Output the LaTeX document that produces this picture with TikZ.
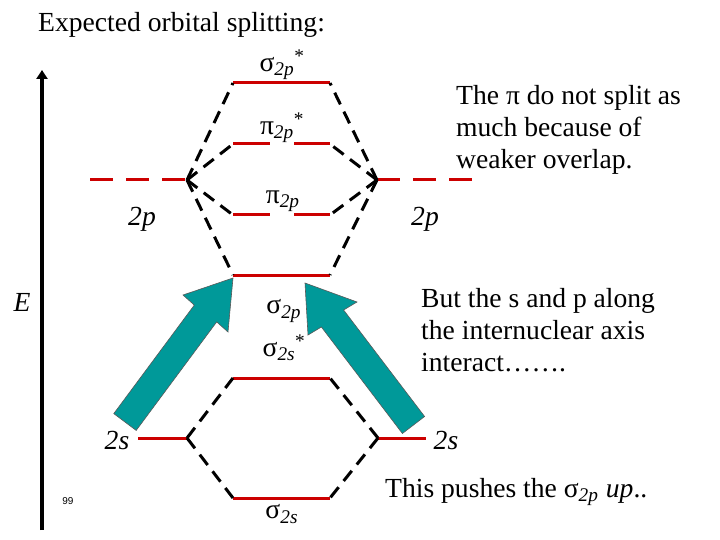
\documentclass[tikz,border=0pt]{standalone}
\usepackage{fontspec}
\setmainfont{Liberation Serif}
\newfontfamily\pagefont{Liberation Sans}
\usepackage{tikz}
\usetikzlibrary{arrows.meta, positioning, calc}
\definecolor{levelred}{HTML}{CC0000}
\definecolor{pushteal}{HTML}{009999}
\newcommand{\orb}[3]{#1\textsubscript{\itshape #2}\textsuperscript{#3}}

\begin{document}
\begin{tikzpicture}[x=1pt, y=-1pt, font=\fontsize{27.6}{32}\selectfont,
  lvl/.style={draw=levelred, line width=3pt},
  aoline/.style={draw=levelred, line width=3pt, dash pattern=on 23pt off 13pt},
  corr/.style={draw=black, line width=3pt, dash pattern=on 13pt off 8pt},
  pusharrow/.style={fill=pushteal, draw=black!65, line width=0.6pt, line join=miter},
  lab/.style={inner sep=0pt},
  ital/.style={inner sep=0pt, font=\fontsize{27.6}{32}\selectfont\itshape},
  note/.style={inner sep=0pt, align=left}]
  \useasboundingbox (0,0) rectangle (720,540);
  % --- energy axis ---
  \coordinate (Ebot) at (42,530);
  \coordinate (Etop) at (42,70);
  \draw[line width=4pt, -{Triangle[width=11pt, length=9pt]}] (Ebot) -- (Etop);
  \node[ital] (Elab) at (22,302) {E};
  \node[lab, font=\pagefont\fontsize{10}{12}\selectfont] (pagenum) at (68,501) {99};
  % --- atomic orbitals ---
  \coordinate (pL) at (187,180);  \coordinate (pLo) at (90,180);
  \coordinate (pR) at (377,180);  \coordinate (pRo) at (475,180);
  \coordinate (sL) at (187,438);  \coordinate (sLo) at (138,438);
  \coordinate (sR) at (378,438);  \coordinate (sRo) at (426,438);
  \draw[aoline] (pLo) -- (pL);
  \draw[aoline] (pR) -- (pRo);
  \draw[lvl] (sLo) -- (sL);
  \draw[lvl] (sR) -- (sRo);
  % --- molecular orbitals ---
  \foreach \n/\y in {sgpS/83, sgp/275, sgsS/378, sgs/498}{
    \coordinate (\n-l) at (233,\y); \coordinate (\n-r) at (330,\y);
    \draw[lvl] (\n-l) -- (\n-r);
  }
  \foreach \n/\y in {pipS/144, pip/215}{
    \coordinate (\n-l) at (233,\y); \coordinate (\n-r) at (330,\y);
    \draw[lvl] (\n-l) -- ++(37,0) (\n-r) -- ++(-36,0);
  }
  % --- correlation lines ---
  \foreach \n in {sgpS, pipS, pip, sgp}{\draw[corr] (pL) -- (\n-l); \draw[corr] (pR) -- (\n-r);}
  \foreach \n in {sgsS, sgs}{\draw[corr] (sL) -- (\n-l); \draw[corr] (sR) -- (\n-r);}
  % --- level labels ---
  \node[lab] (tsgpS) at (282,65) {\orb{σ}{2p}{*}};
  \node[lab] (tpipS) at (282,128) {\orb{π}{2p}{*}};
  \node[lab] (tpip) at (283,201) {\orb{π}{2p}{}};
  \node[lab] (tsgp) at (284,311) {\orb{σ}{2p}{}};
  \node[lab] (tsgsS) at (284,348) {\orb{σ}{2s}{*}};
  \node[lab] (tsgs) at (282,514) {\orb{σ}{2s}{}};
  \node[ital] (t2pL) at (142,219) {2p};
  \node[ital] (t2pR) at (425,219) {2p};
  \node[ital] (t2sL) at (117,440) {2s};
  \node[ital] (t2sR) at (446,440) {2s};
  % --- s-p mixing arrows ---
  \draw[pusharrow] (113.8,413.6) -- (194.3,305.1) -- (183,295) -- (233,278)
    -- (228,332) -- (216.7,321.9) -- (136.2,430.4) -- cycle;
  \draw[pusharrow] (424.6,416.5) -- (343.6,310) -- (357,302) -- (305,283)
    -- (308,335) -- (321.4,327) -- (402.4,433.5) -- cycle;
  % --- notes ---
  \node[lab, anchor=base west] (title) at (38,32) {Expected orbital splitting:};
  \node[note, anchor=north west] (pinote) at (456,85) {The π do not split as\\much because of\\weaker overlap.};
  \node[note, anchor=north west] (spnote) at (421,288) {But the s and p along\\the internuclear axis\\interact…….};
  \node[lab, anchor=base west] (pushnote) at (385,497) {This pushes the \orb{σ}{2p}{} \textit{up}..};
\end{tikzpicture}
\end{document}
